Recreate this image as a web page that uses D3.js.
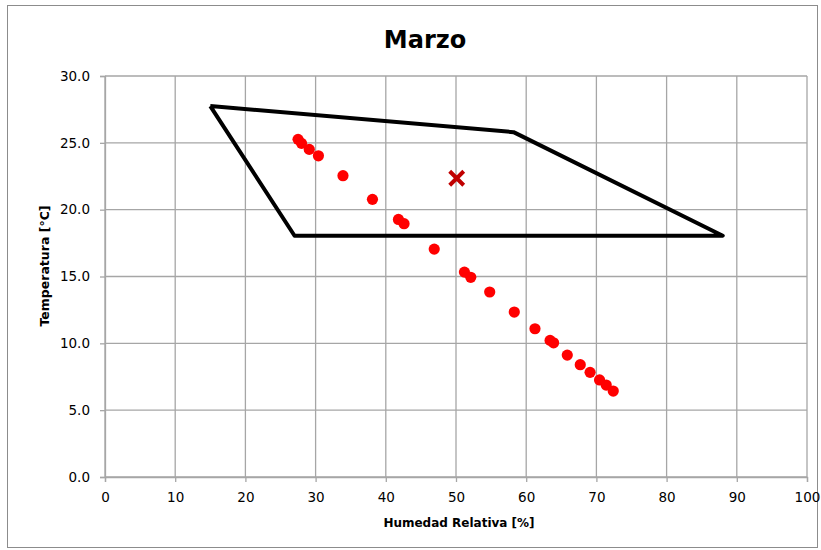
<!DOCTYPE html>
<meta charset="utf-8">
<head>
  <title>Marzo</title>
</head>
<style>
  body { margin: 0; background: #fff; }
  text { font-family: "DejaVu Sans", sans-serif; }
</style>
<body>
<div id="chart"></div>
<script src="https://d3js.org/d3.v7.min.js"></script>
<script>

// measured points: humedad relativa [%], temperatura [C]
var humedad = [27.5, 28.0, 29.1, 30.4, 33.9, 38.1, 41.8, 42.6, 46.9, 51.2, 52.1,
               54.8, 58.3, 61.25, 63.4, 63.9, 65.85, 67.7, 69.1, 70.45, 71.4, 72.4];
var temperatura = [25.26, 24.96, 24.51, 24.03, 22.54, 20.77, 19.27, 18.95, 17.05, 15.33, 14.94,
                   13.84, 12.34, 11.09, 10.22, 10.04, 9.12, 8.4, 7.83, 7.26, 6.88, 6.43];

// comfort zone polygon
var zonaHR = [15, 58.2, 88, 27, 15];
var zonaT  = [27.75, 25.8, 18.05, 18.05, 27.75];

// average point
var mediaHR = [50.1];
var mediaT  = [22.35];

var xTicks = [0, 10, 20, 30, 40, 50, 60, 70, 80, 90, 100];
var yTicks = [0, 5, 10, 15, 20, 25, 30];

var W = 821, H = 550;
var margin = {top: 76, right: 14, bottom: 73, left: 105},
    width = 807 - margin.left,
    height = 477 - margin.top;

var svg = d3.select("#chart").append("svg")
    .attr("width", W)
    .attr("height", H);

// chart frame
svg.append("rect")
    .attr("x", 7.5).attr("y", 5.5)
    .attr("width", 810).attr("height", 542)
    .attr("fill", "none")
    .attr("stroke", "#8c8c8c");

var g = svg.append("g")
    .attr("transform", "translate(" + margin.left + "," + margin.top + ")");

var x = d3.scaleLinear().domain([0, 100]).range([0, width]);
var y = d3.scaleLinear().domain([0, 30]).range([height, 0]);

// grid
g.append("g").selectAll("line")
  .data(xTicks).enter().append("line")
    .attr("x1", function(d){ return x(d); })
    .attr("x2", function(d){ return x(d); })
    .attr("y1", 0).attr("y2", height)
    .attr("stroke", "#a6a6a6").attr("stroke-width", 1.3);
g.append("g").selectAll("line")
  .data(yTicks).enter().append("line")
    .attr("x1", 0).attr("x2", width)
    .attr("y1", function(d){ return y(d); })
    .attr("y2", function(d){ return y(d); })
    .attr("stroke", "#a6a6a6").attr("stroke-width", 1.3);

// axes
var xAxis = g.append("g")
    .attr("transform", "translate(0," + height + ")")
    .call(d3.axisBottom(x).tickValues(xTicks).tickSize(5).tickPadding(10).tickFormat(d3.format("d")));
var yAxis = g.append("g")
    .call(d3.axisLeft(y).tickValues(yTicks).tickSize(5).tickPadding(10).tickFormat(d3.format(".1f")));

[xAxis, yAxis].forEach(function(a){
  a.select(".domain").attr("stroke", "#a6a6a6").attr("stroke-width", 1.3);
  a.selectAll(".tick line").attr("stroke", "#a6a6a6").attr("stroke-width", 1.3);
  a.selectAll(".tick text")
    .style("font-family", "DejaVu Sans, sans-serif")
    .style("font-size", "13.5px")
    .attr("fill", "#000");
});

// comfort zone
var line = d3.line()
    .x(function(d){ return x(d[0]); })
    .y(function(d){ return y(d[1]); });
g.append("path")
    .datum(d3.zip(zonaHR, zonaT))
    .attr("d", line)
    .attr("fill", "none")
    .attr("stroke", "#000")
    .attr("stroke-width", 4)
    .attr("stroke-linejoin", "round");

// points
g.append("g").selectAll("circle")
  .data(d3.zip(humedad, temperatura)).enter().append("circle")
    .attr("cx", function(d){ return x(d[0]); })
    .attr("cy", function(d){ return y(d[1]); })
    .attr("r", 5.6)
    .attr("fill", "#ff0000");

// average marker
var cross = d3.symbol().type(d3.symbolX).size(130);
g.append("g").selectAll("path")
  .data(d3.zip(mediaHR, mediaT)).enter().append("path")
    .attr("transform", function(d){ return "translate(" + x(d[0]) + "," + y(d[1]) + ")"; })
    .attr("d", cross)
    .attr("fill", "none")
    .attr("stroke", "#c00000")
    .attr("stroke-width", 4);

// titles
svg.append("text")
    .attr("x", 425).attr("y", 48)
    .attr("text-anchor", "middle")
    .style("font-weight", "bold")
    .style("font-size", "24px")
    .text("Marzo");

svg.append("text")
    .attr("x", 459).attr("y", 527)
    .attr("text-anchor", "middle")
    .style("font-weight", "bold")
    .style("font-size", "12px")
    .text("Humedad Relativa [%]");

svg.append("text")
    .attr("transform", "translate(49," + 266 + ") rotate(-90)")
    .attr("text-anchor", "middle")
    .style("font-weight", "bold")
    .style("font-size", "12.5px")
    .text("Temperatura [°C]");

</script>
</body>
</html>
